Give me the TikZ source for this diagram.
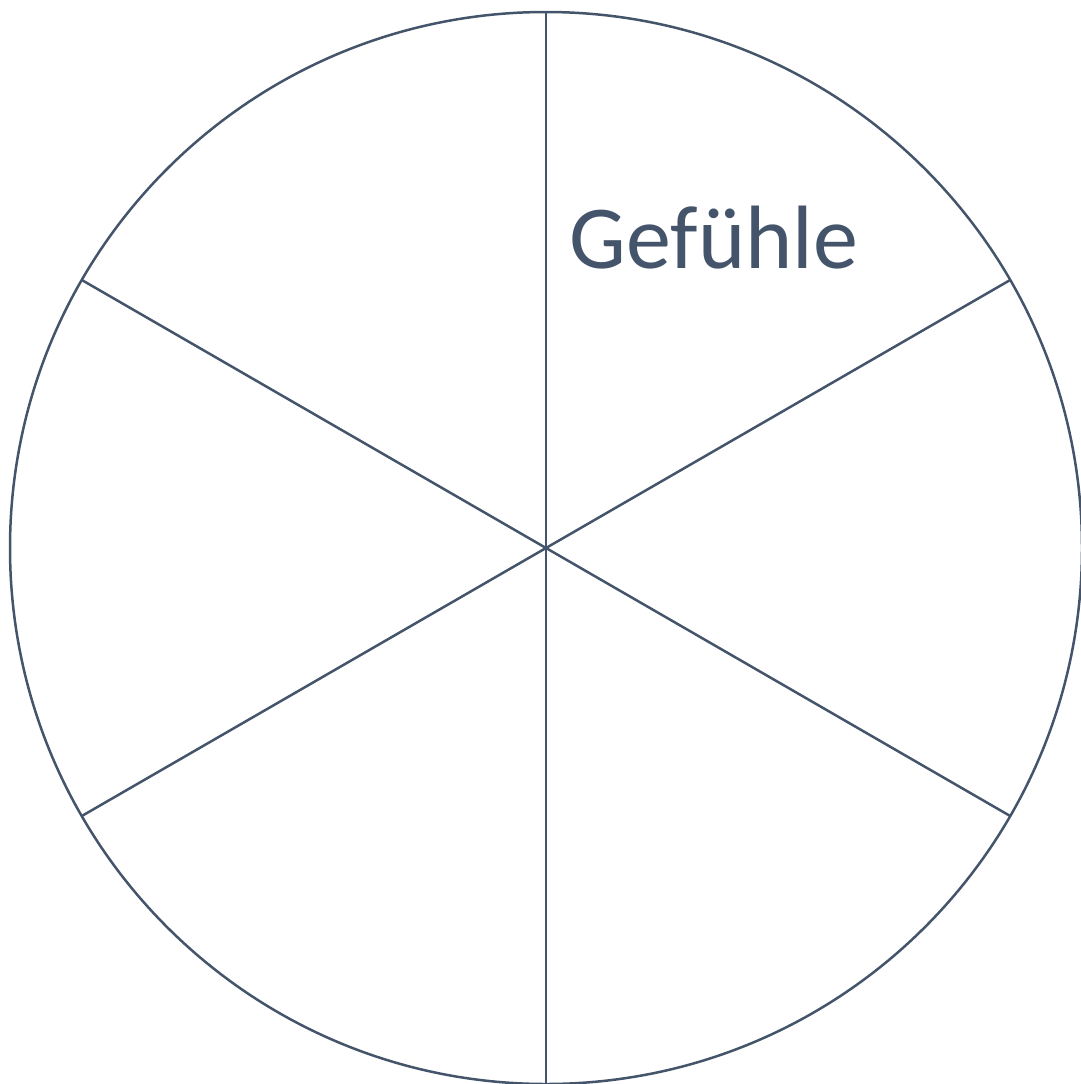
\documentclass[tikz,border=0pt]{standalone}
\usepackage{fontspec}
\setmainfont{Carlito}
\usetikzlibrary{calc}
\definecolor{slate}{HTML}{44546A}
\begin{document}
\begin{tikzpicture}[x=1pt,y=1pt,
  rim/.style={draw=slate,line width=2.5pt},
  spoke/.style={draw=slate,line width=2.5pt},
  lbl/.style={text=slate,font=\fontsize{90}{100}\selectfont,anchor=base,inner sep=0pt}]
\useasboundingbox (0,0) rectangle (1081,-1084);
\coordinate (c) at (546,-548);
\draw[rim] (c) circle (536);
\foreach \a in {90,30,-30,-90,-150,150}{
  \coordinate (p\a) at ($(c)+(\a:536)$);
}
\draw[spoke] (p90) -- (p-90);
\draw[spoke] (p150) -- (p-30);
\draw[spoke] (p30) -- (p-150);
\node[lbl] (t) at (714,-268) {Gefühle};
\end{tikzpicture}
\end{document}
